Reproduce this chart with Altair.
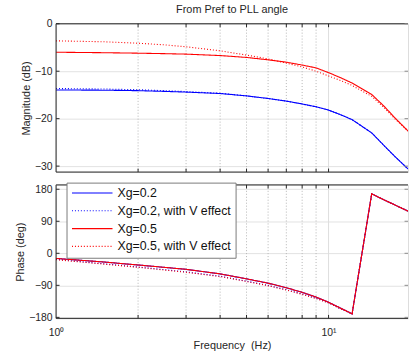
import altair as alt
import pandas as pd

# ---- data ----
freq = [1, 1.5, 2, 2.5, 3, 4, 5, 6, 7, 8, 9, 10, 11, 12.2, 14.4, 16, 17.5, 19.57]
mag_xg02 = [-13.95, -14.0, -14.1, -14.25, -14.4, -14.7, -15.2, -15.75, -16.3, -16.9, -17.5, -18.2, -19.1, -20.2, -23.0, -25.7, -27.95, -30.6]
mag_xg02_v = [-13.65, -13.75, -13.9, -14.1, -14.3, -14.65, -15.2, -15.75, -16.3, -16.9, -17.5, -18.2, -19.1, -20.2, -23.0, -25.7, -27.95, -30.6]
mag_xg05 = [-6.0, -6.1, -6.2, -6.3, -6.4, -6.7, -7.1, -7.6, -8.1, -8.7, -9.3, -10.3, -11.3, -12.5, -14.9, -17.4, -19.8, -22.6]
mag_xg05_v = [-3.6, -3.8, -4.1, -4.45, -4.85, -5.7, -6.6, -7.4, -8.3, -9.1, -10.0, -11.0, -11.9, -13.0, -15.3, -17.7, -20.0, -22.6]
ph_xg02 = [-14.4, -24.5, -32.8, -39.5, -45, -57.8, -71.7, -83.9, -96.7, -109.7, -122.8, -137.5, -153, -170, 167, 150, 136, 118.5]
ph_xg02_v = [-17, -29.5, -38.5, -46, -52.3, -64.3, -78.2, -90.1, -102.3, -114.3, -126.2, -138.9, -155, -170, 167, 150, 136, 118.5]
ph_xg05 = [-14.4, -24.5, -32.8, -39.5, -45, -57.8, -71.7, -83.9, -96.7, -109.7, -122.8, -137.5, -153, -170, 167, 150, 136, 118.5]
ph_xg05_v = [-18, -30.5, -39.4, -47, -53.3, -65.3, -79.2, -91.1, -103.3, -115.3, -127.2, -139.4, -155, -170, 167, 150, 136, 118.5]

series_names = ["\u00a0Xg=0.2", "Xg=0.2, with V effect", "Xg=0.5", "Xg=0.5, with V effect"]
series_colors = ["#0000ff", "#0000ff", "#ff0000", "#ff0000"]
series_dash = [[1, 0], [1, 2], [1, 0], [1, 2]]
series_width = [1.1, 1.1, 1.7, 1.7]

mag_ticks = [0, -10, -20, -30]
phase_ticks = [180, 90, 0, -90, -180]
minor_freq = [2, 3, 4, 5, 6, 7, 8, 9]
major_freq = [10]
all_freq_ticks = [2, 3, 4, 5, 6, 7, 8, 9, 10]

rows = []
for name, m, p in zip(series_names,
                      [mag_xg02, mag_xg02_v, mag_xg05, mag_xg05_v],
                      [ph_xg02, ph_xg02_v, ph_xg05, ph_xg05_v]):
    for f, mv, pv in zip(freq, m, p):
        rows.append({"f": f, "mag": mv, "phase": pv, "series": name})
df = pd.DataFrame(rows)

W = 356
H_MAG = 150
H_PH = 135
FONT = "Liberation Sans"
AX = "#262626"
X_DOMAIN = [1, 19.57]

xscale = alt.Scale(type="log", domain=X_DOMAIN, nice=False, zero=False)

one = pd.DataFrame({"k": [0]})
minor_df = pd.DataFrame({"f": minor_freq})
major_df = pd.DataFrame({"f": major_freq})
xt_df = pd.DataFrame({"f": all_freq_ticks})


def panel(field, ydomain, yvals, ytitle, height, with_legend, xaxis):
    yscale = alt.Scale(domain=ydomain, nice=False, zero=False)
    yaxis = alt.Axis(values=yvals, grid=True, gridColor="#e2e2e2",
                     ticks=False, domain=False, labelFontSize=10.5,
                     labelFont=FONT, labelColor=AX, labelPadding=4,
                     labelFlush=False, labelOverlap=False,
                     title=ytitle, titleFont=FONT, titleFontSize=11,
                     titleFontWeight="normal", titleColor=AX,
                     titlePadding=3)

    def X(fld="f"):
        return alt.X(f"{fld}:Q", scale=xscale, axis=xaxis)

    def Y(fld):
        return alt.Y(f"{fld}:Q", scale=yscale, axis=yaxis)

    grid_minor = alt.Chart(minor_df).mark_rule(
        color="#b4b4b4", strokeDash=[1, 2], strokeWidth=1
    ).encode(x=X())
    grid_major = alt.Chart(major_df).mark_rule(
        color="#dedede", strokeWidth=1
    ).encode(x=X())

    leg = alt.Legend(
        title=None, orient="none", legendX=10.6, legendY=-2.3,
        symbolType="stroke", symbolSize=1681, clipHeight=12, rowPadding=5,
        padding=4.5, fillColor="white", strokeColor="#7a7a7a",
        labelFontSize=12.5, labelFont=FONT, labelColor="#111111",
        labelOffset=4, labelLimit=300,
    ) if with_legend else None

    layers = [grid_minor, grid_major]
    for name in series_names:
        enc = dict(
            x=X(),
            y=Y(field),
            color=alt.Color("series:N", scale=alt.Scale(domain=series_names, range=series_colors), legend=leg),
            strokeDash=alt.StrokeDash("series:N", scale=alt.Scale(domain=series_names, range=series_dash), legend=leg),
            strokeWidth=alt.StrokeWidth("series:N", scale=alt.Scale(domain=series_names, range=series_width), legend=leg),
        )
        layers.append(
            alt.Chart(df).transform_filter(alt.datum.series == name)
            .mark_line(clip=True).encode(**enc)
        )

    # frame (left, top, bottom)
    frame_left = alt.Chart(one).mark_rule(color=AX, strokeWidth=1).encode(
        x=alt.value(0), y=alt.value(0), y2=alt.value(height))
    frame_top = alt.Chart(one).mark_rule(color=AX, strokeWidth=1).encode(
        x=alt.value(0), x2=alt.value(W), y=alt.value(0))
    frame_bot = alt.Chart(one).mark_rule(color=AX, strokeWidth=1).encode(
        x=alt.value(0), x2=alt.value(W), y=alt.value(height))
    # inward ticks
    yt_df = pd.DataFrame({"v": yvals})
    xt_top = alt.Chart(xt_df).mark_rule(color=AX).encode(
        x=X(), y=alt.value(0), y2=alt.value(3.5))
    xt_bot = alt.Chart(xt_df).mark_rule(color=AX).encode(
        x=X(), y=alt.value(height - 3.5), y2=alt.value(height))
    yt_left = alt.Chart(yt_df).mark_rule(color=AX).encode(
        y=Y("v"), x=alt.value(0), x2=alt.value(3.5))
    yt_right = alt.Chart(yt_df).mark_rule(color="#8a8a8a").encode(
        y=Y("v"), x=alt.value(W - 3.5), x2=alt.value(W))
    layers += [frame_left, frame_top, frame_bot, xt_top, xt_bot, yt_left, yt_right]
    return alt.layer(*layers).properties(width=W, height=height)


mag_chart = panel("mag", [-31.25, 0], mag_ticks, "Magnitude (dB)", H_MAG, False, None).properties(
    title=alt.Title("From Pref to PLL angle", font=FONT, fontSize=11, fontWeight="normal",
                    color=AX, anchor="middle", frame="group", offset=3.5)
)

x_axis_bottom = alt.Axis(values=[1, 10], grid=False, ticks=False, domain=False,
                         labelExpr="datum.value == 1 ? '10\u2070' : '10\u00b9'",
                         labelFlush=False, labelOverlap=False,
                         labelFontSize=10.5, labelFont=FONT, labelColor=AX, labelPadding=9,
                         title="Frequency\u00a0 (Hz)", titleFont=FONT, titleFontSize=11,
                         titleFontWeight="normal", titleColor=AX, titlePadding=1.5)
ph_chart = panel("phase", [-182.8, 192.2], phase_ticks, "Phase (deg)", H_PH, True, x_axis_bottom)

chart = alt.vconcat(mag_chart, ph_chart, spacing=8).resolve_scale(
    color="independent", strokeDash="independent", strokeWidth="independent"
).resolve_legend(
    color="independent", strokeDash="independent", strokeWidth="independent"
).properties(
    padding={"left": 13.7, "top": 2, "right": 0, "bottom": 0}
).configure_view(strokeWidth=0).configure(background="white")

chart.save("out.html", embed_options={"renderer": "svg", "actions": False})
